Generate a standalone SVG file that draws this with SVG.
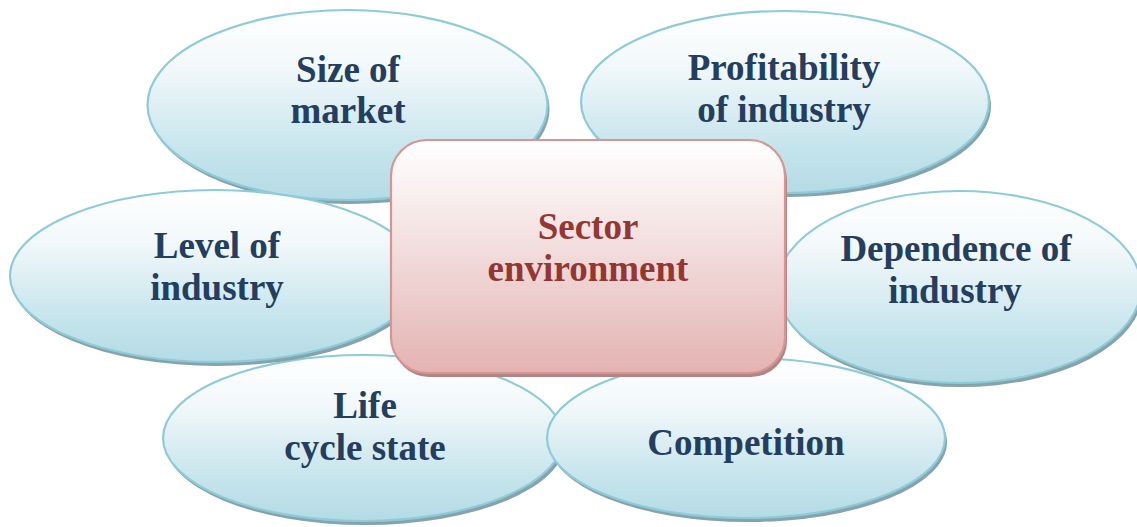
<svg xmlns="http://www.w3.org/2000/svg" width="1137" height="527" viewBox="0 0 1137 527">
  <defs>
    <linearGradient id="blueFill" x1="0" y1="0" x2="0" y2="1">
      <stop offset="0" stop-color="#ffffff"/>
      <stop offset="0.3" stop-color="#f2f8fa"/>
      <stop offset="0.75" stop-color="#c5e4ec"/>
      <stop offset="1" stop-color="#b4dbe5"/>
    </linearGradient>
    <linearGradient id="pinkFill" x1="0" y1="0" x2="0" y2="1">
      <stop offset="0" stop-color="#ffffff"/>
      <stop offset="0.35" stop-color="#f6e6e6"/>
      <stop offset="1" stop-color="#e3b3b2"/>
    </linearGradient>
    <filter id="soft" x="-5%" y="-5%" width="110%" height="115%">
      <feGaussianBlur stdDeviation="0.5"/>
    </filter>
  </defs>
  <style>
    .shadow { fill: #86a2aa; filter: url(#soft); }
    .oval { fill: url(#blueFill); stroke: #8ecbda; stroke-width: 2.2; }
    .label { font-family: "Liberation Serif", "Times New Roman", serif; font-weight: bold; font-size: 37px; fill: #233e5f; text-anchor: middle; }
    .core-shadow { fill: #b08585; filter: url(#soft); }
    .core { fill: url(#pinkFill); stroke: #d79492; stroke-width: 2.2; }
    .core-label { font-family: "Liberation Serif", "Times New Roman", serif; font-weight: bold; font-size: 37px; fill: #943634; text-anchor: middle; }
  </style>
  <rect width="1137" height="527" fill="#ffffff"/>

  <g id="connectors"/>

  <g id="size-of-market">
    <ellipse class="shadow" cx="349.5" cy="109" rx="200" ry="95"/>
    <ellipse class="oval" cx="347.5" cy="105" rx="200" ry="95"/>
    <text class="label" x="348" y="82">Size of</text>
    <text class="label" x="348" y="123">market</text>
  </g>

  <g id="profitability-of-industry">
    <ellipse class="shadow" cx="787" cy="106" rx="204" ry="91"/>
    <ellipse class="oval" cx="785" cy="102" rx="204" ry="91"/>
    <text class="label" x="784" y="80">Profitability</text>
    <text class="label" x="784" y="122">of industry</text>
  </g>

  <g id="life-cycle-state">
    <ellipse class="shadow" cx="365" cy="442" rx="200" ry="83"/>
    <ellipse class="oval" cx="363" cy="438" rx="200" ry="83"/>
    <text class="label" x="365" y="418">Life</text>
    <text class="label" x="365" y="460">cycle state</text>
  </g>

  <g id="competition">
    <ellipse class="shadow" cx="748" cy="442" rx="199" ry="80"/>
    <ellipse class="oval" cx="746" cy="438" rx="199" ry="80"/>
    <text class="label" x="746" y="455">Competition</text>
  </g>

  <g id="dependence-of-industry">
    <ellipse class="shadow" cx="961" cy="291" rx="182" ry="96"/>
    <ellipse class="oval" cx="959" cy="287" rx="182" ry="96"/>
    <text class="label" x="956" y="261">Dependence of</text>
    <text class="label" x="955" y="303">industry</text>
  </g>

  <g id="level-of-industry">
    <ellipse class="shadow" cx="217" cy="280" rx="205" ry="86"/>
    <ellipse class="oval" cx="215" cy="276" rx="205" ry="86"/>
    <text class="label" x="217" y="258">Level of</text>
    <text class="label" x="217" y="300">industry</text>
  </g>

  <g id="sector-environment">
    <rect class="core-shadow" x="393" y="144" width="394" height="233" rx="36" ry="36"/>
    <rect class="core" x="391" y="140" width="394" height="233" rx="36" ry="36"/>
    <text class="core-label" x="588" y="239">Sector</text>
    <text class="core-label" x="588" y="281">environment</text>
  </g>
</svg>
